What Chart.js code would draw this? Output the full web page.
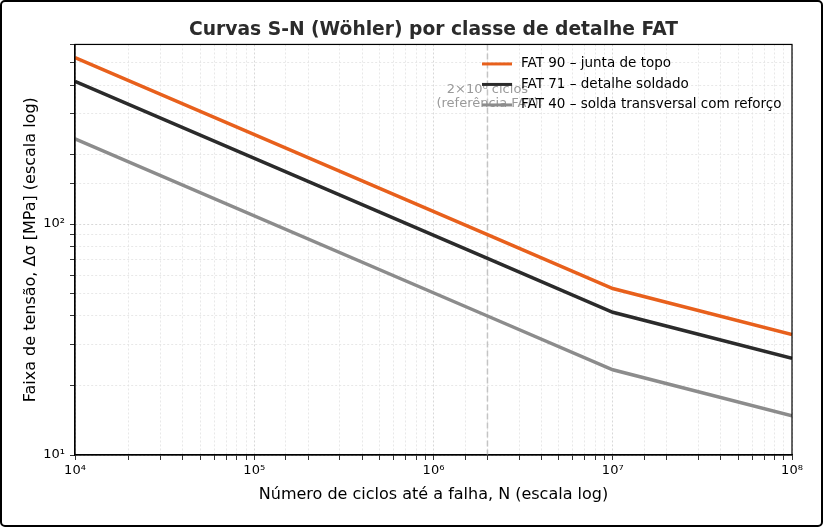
<!DOCTYPE html>
<html lang="pt">
<head>
<meta charset="utf-8">
<title>Curvas S-N (Wöhler)</title>
<script src="https://cdn.jsdelivr.net/npm/chart.js@4.4.1/dist/chart.umd.min.js"></script>
<style>
  html, body { margin: 0; padding: 0; background: #fff; }
  .wrap { position: relative; width: 823px; height: 527px; }
  .frame {
    position: absolute; inset: 0;
    border: 2px solid #000; border-radius: 5px;
    pointer-events: none;
  }
</style>
</head>
<body>
<div class="wrap">
  <canvas id="sn-chart"></canvas>
  <div class="frame"></div>
</div>
<script>
// values (N cycles, stress range in MPa)
const CYCLES = [1e4, 2e6, 1e7, 1e8];
const FAT90 = [526, 90, 52.6, 33.2];
const FAT71 = [415, 71, 41.5, 26.2];
const FAT40 = [234, 40, 23.4, 14.8];
const SERIES_LABELS = [
  "FAT 90 – junta de topo",
  "FAT 71 – detalhe soldado",
  "FAT 40 – solda transversal com reforço",
];
const SERIES_COLORS = ["#e8601c", "#2b2b2b", "#8c8c8c"];
const X_RANGE = [1e4, 1e8];
const Y_RANGE = [10, 600];
const REF_CYCLES = 2e6;
const REF_LABEL = ["2×10⁶ ciclos", "(referência FAT)"];

const FONT = "'DejaVu Sans', sans-serif";
const SUP = "⁰¹²³⁴⁵⁶⁷⁸⁹";

function isPow10(v) {
  const e = Math.round(Math.log10(v));
  return Math.abs(v - Math.pow(10, e)) < 1e-6 * v;
}

function pow10Label(v) {
  if (!isPow10(v)) return "";
  const e = String(Math.round(Math.log10(v)));
  return "10" + e.split("").map((d) => SUP[+d]).join("");
}

function toPoints(ys) {
  return CYCLES.map((x, i) => ({ x, y: ys[i] }));
}

const gridColor = (c) => (c.tick && isPow10(c.tick.value) ? "#cfcfcf" : "#e2e2e2");

// dashed reference line at 2e6 cycles plus its note
const refLinePlugin = {
  id: "refLine",
  beforeDatasetsDraw(chart) {
    const { ctx, chartArea, scales } = chart;
    const x = scales.x.getPixelForValue(REF_CYCLES);
    ctx.save();
    ctx.strokeStyle = "#c4c4c4";
    ctx.lineWidth = 1.5;
    ctx.setLineDash([6, 3]);
    ctx.beginPath();
    ctx.moveTo(x, chartArea.top);
    ctx.lineTo(x, chartArea.bottom);
    ctx.stroke();
    ctx.setLineDash([]);
    ctx.fillStyle = "#9a9a9a";
    ctx.font = `13px ${FONT}`;
    ctx.textAlign = "center";
    ctx.textBaseline = "middle";
    ctx.fillText(REF_LABEL[0], x, chartArea.top + 45);
    ctx.fillText(REF_LABEL[1], x, chartArea.top + 59);
    ctx.restore();
  },
};

// black box round the plot area, legend drawn inside it without a background
const frameLegendPlugin = {
  id: "frameLegend",
  afterDraw(chart) {
    const { ctx, chartArea } = chart;
    ctx.save();
    ctx.strokeStyle = "#000";
    ctx.lineWidth = 1.2;
    ctx.strokeRect(chartArea.left, chartArea.top, chartArea.right - chartArea.left, chartArea.bottom - chartArea.top);

    const x0 = chartArea.left + 407;
    let y = chartArea.top + 19.5;
    ctx.font = `13.5px ${FONT}`;
    ctx.textBaseline = "middle";
    ctx.textAlign = "left";
    chart.data.datasets.forEach((ds) => {
      ctx.strokeStyle = ds.borderColor;
      ctx.lineWidth = 3;
      ctx.beginPath();
      ctx.moveTo(x0, y);
      ctx.lineTo(x0 + 30, y);
      ctx.stroke();
      ctx.fillStyle = "#000";
      ctx.fillText(ds.label, x0 + 39, y);
      y += 20.5;
    });
    ctx.restore();
  },
};

const datasets = [FAT90, FAT71, FAT40].map((ys, i) => ({
  label: SERIES_LABELS[i],
  data: toPoints(ys),
  borderColor: SERIES_COLORS[i],
  backgroundColor: SERIES_COLORS[i],
  borderWidth: 3.5,
  pointRadius: 0,
  tension: 0,
}));

new Chart(document.getElementById("sn-chart"), {
  type: "line",
  data: { datasets },
  options: {
    responsive: true,
    maintainAspectRatio: false,
    animation: false,
    layout: { padding: { top: 9, left: 8, right: 31, bottom: 0 } },
    plugins: {
      legend: { display: false },
      tooltip: { enabled: false },
      title: {
        display: true,
        fullSize: false,
        text: "Curvas S-N (Wöhler) por classe de detalhe FAT",
        color: "#2b2b2b",
        font: { family: FONT, size: 18.7, weight: "bold" },
        padding: { top: 10, bottom: 3 },
      },
    },
    scales: {
      x: {
        type: "logarithmic",
        min: X_RANGE[0],
        max: X_RANGE[1],
        afterFit: (s) => { s.height = 72; },
        title: {
          display: true,
          text: "Número de ciclos até a falha, N (escala log)",
          color: "#000",
          font: { family: FONT, size: 16 },
          padding: { top: 0, bottom: 23 },
        },
        ticks: {
          autoSkip: false,
          maxRotation: 0,
          color: "#000",
          font: { family: FONT, size: 13 },
          padding: 3,
          callback: (v) => pow10Label(v),
        },
        grid: { color: gridColor, tickColor: "#000", tickLength: 5, lineWidth: 0.8 },
        border: { color: "#000", width: 1.2, dash: [2, 2] },
      },
      y: {
        type: "logarithmic",
        min: Y_RANGE[0],
        max: Y_RANGE[1],
        afterFit: (s) => { s.width = 67; },
        title: {
          display: true,
          text: "Faixa de tensão, Δσ [MPa] (escala log)",
          color: "#000",
          font: { family: FONT, size: 16 },
          padding: { top: 13, bottom: 0 },
        },
        ticks: {
          autoSkip: false,
          color: "#000",
          font: { family: FONT, size: 13 },
          padding: 5,
          callback: (v) => pow10Label(v),
        },
        grid: { color: gridColor, tickColor: "#000", tickLength: 5, lineWidth: 0.8 },
        border: { color: "#000", width: 1.2, dash: [2, 2] },
      },
    },
  },
  plugins: [refLinePlugin, frameLegendPlugin],
});
</script>
</body>
</html>
